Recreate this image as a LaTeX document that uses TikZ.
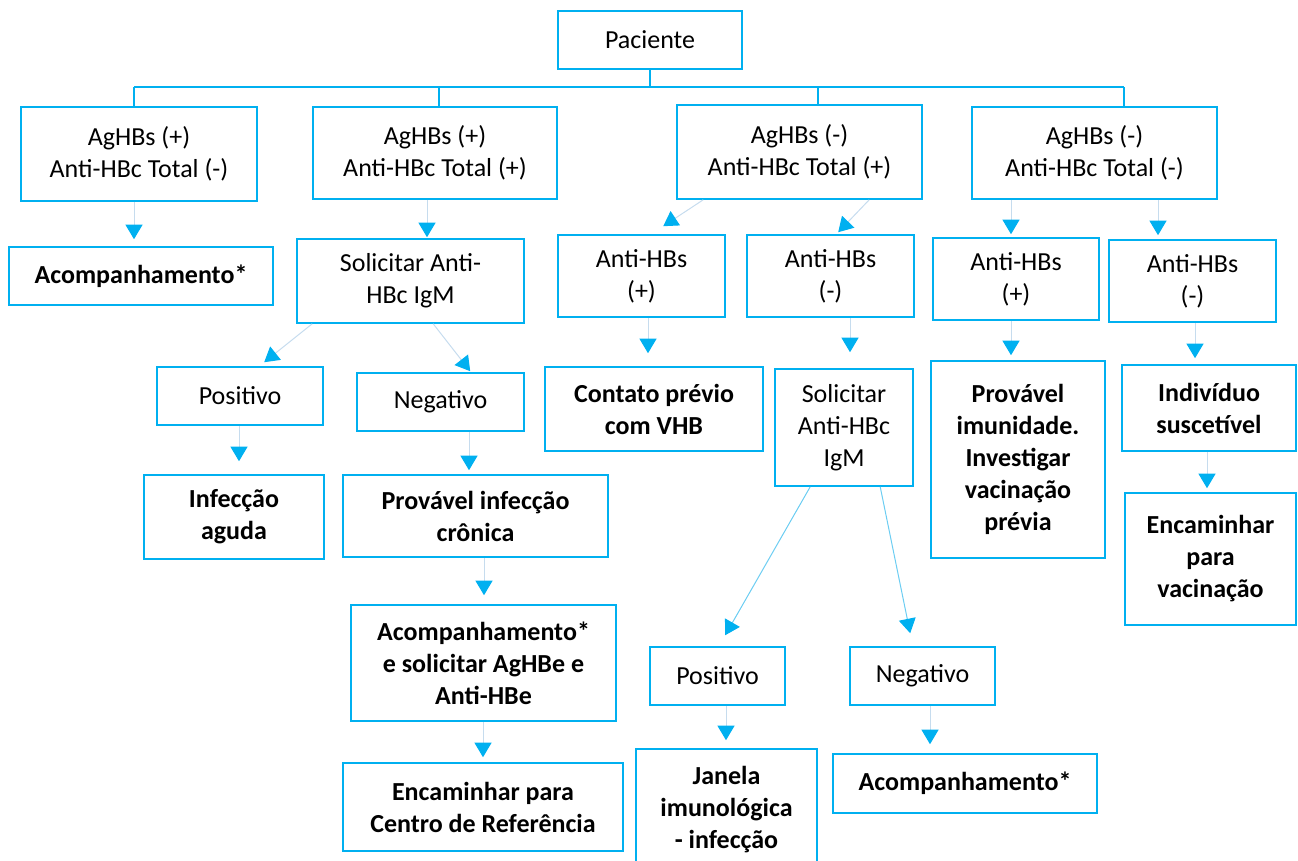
\documentclass[tikz,border=0pt]{standalone}
\usepackage{fontspec}
\setmainfont{Carlito}
\usetikzlibrary{arrows.meta}
\definecolor{boxblue}{HTML}{00B0F0}
\definecolor{shaftblue}{HTML}{C6DCEE}
\definecolor{shaftcyan}{HTML}{6CCDF2}
\tikzset{
	box/.style={draw=boxblue, line width=1.6pt, align=center, inner sep=0pt, font=\fontsize{26}{32}\selectfont},
	res/.style={box, font=\fontsize{26}{32}\selectfont\bfseries},
	bus/.style={draw=boxblue, line width=1.8pt},
	arr/.style={draw=shaftblue, line width=1pt, -{Triangle[length=14.5pt,width=17pt,color=boxblue]}},
	arrcyan/.style={arr, draw=shaftcyan},
}
\begin{document}
\begin{tikzpicture}[x=1pt,y=-1pt]
	\useasboundingbox (0,0) rectangle (1298,860);
	% first levels
	\node[box, minimum width=184, minimum height=58] (pac) at (650,40) {Paciente};
	\node[box, minimum width=236, minimum height=94] (b1) at (139,154) {AgHBs (+)\\Anti-HBc Total (-)};
	\node[box, minimum width=244, minimum height=92] (b2) at (435,153) {AgHBs (+)\\Anti-HBc Total (+)};
	\node[box, minimum width=245, minimum height=94] (b3) at (799.5,152) {AgHBs (-)\\Anti-HBc Total (+)};
	\node[box, minimum width=245, minimum height=92] (b4) at (1094.5,153) {AgHBs (-)\\Anti-HBc Total (-)};
	\node[res, minimum width=264, minimum height=58] (acomp1) at (141,276) {Acompanhamento*};
	\node[box, minimum width=227, minimum height=84] (sol1) at (410.5,281) {Solicitar Anti-\\HBc IgM};
	\node[box, minimum width=167, minimum height=82] (ahbs1) at (641.5,276) {Anti-HBs\\(+)};
	\node[box, minimum width=167, minimum height=82] (ahbs2) at (830.5,276) {Anti-HBs\\(-)};
	\node[box, minimum width=166, minimum height=82] (ahbs3) at (1016,279) {Anti-HBs\\(+)};
	\node[box, minimum width=167, minimum height=82] (ahbs4) at (1192.5,281) {Anti-HBs\\(-)};
	% results
	\node[box, minimum width=166, minimum height=58] (pos1) at (240,396) {Positivo};
	\node[box, minimum width=167, minimum height=58] (neg1) at (440.5,402) {Negativo};
	\node[res, minimum width=218, minimum height=84] (contato) at (654,409) {Contato prévio\\com VHB};
	\node[box, minimum width=138, minimum height=117] (sol2) at (844,427.5) {Solicitar\\Anti-HBc\\IgM};
	\node[res, minimum width=174, minimum height=197] (provimun) at (1018,459.5) {Provável\\imunidade.\\Investigar\\vacinação\\prévia};
	\node[res, minimum width=174, minimum height=86] (indiv) at (1209,408) {Indivíduo\\suscetível};
	\node[res, minimum width=180, minimum height=84] (infag) at (234,517) {Infecção\\aguda};
	\node[res, minimum width=265, minimum height=82] (provcron) at (475.5,516) {Provável infecção\\crônica};
	\node[res, minimum width=171, minimum height=132] (encvac) at (1210.5,559) {Encaminhar\\para\\vacinação};
	\node[res, minimum width=265, minimum height=116] (acompe) at (483.5,663) {Acompanhamento*\\e solicitar AgHBe e\\Anti-HBe};
	\node[box, minimum width=135, minimum height=58] (pos2) at (717.5,676) {Positivo};
	\node[box, minimum width=145, minimum height=58] (neg2) at (922.5,676) {Negativo};
	\node[res, minimum width=280, minimum height=88] (encref) at (483,807) {Encaminhar para\\Centro de Referência};
	\node[res, minimum width=181, minimum height=122] (janela) at (726.5,810) {Janela\\imunológica\\- infecção};
	\node[res, minimum width=264, minimum height=59] (acomp3) at (965,783.5) {Acompanhamento*};
	% tree bus
	\coordinate (busl) at (134,87);
	\coordinate (j2) at (439,87);
	\coordinate (j3) at (818,87);
	\coordinate (busr) at (1124,87);
	\draw[bus] (pac.south) -- (pac.south |- busl);
	\draw[bus] (busl) -- (busr);
	\foreach \j/\b in {busl/b1, j2/b2, j3/b3, busr/b4}
		\draw[bus] (\j) -- (\j |- \b.north);
	% arrows
	\path[arr, shorten >=7pt] (b1.south -| 134,0) -- (acomp1.north -| 134,0);
	\path[arr, shorten >=1pt] (b2.south -| 427,0) -- (sol1.north -| 427,0);
	\path[arr] ([xshift=27]b3.south west) -- ([shift={(106,-8)}]ahbs1.north west);
	\path[arr] ([xshift=193]b3.south west) -- ([shift={(92,-2)}]ahbs2.north west);
	\path[arr, shorten >=3pt] (b4.south -| 1011,0) -- (ahbs3.north -| 1011,0);
	\path[arr, shorten >=4pt] (b4.south -| 1158,0) -- (ahbs4.north -| 1158,0);
	\path[arr] ([xshift=16]sol1.south west) -- ([shift={(108,-4)}]pos1.north west);
	\path[arr] ([xshift=137]sol1.south west) -- ([shift={(114,-1)}]neg1.north west);
	\path[arr, shorten >=13pt] (ahbs1.south -| 648,0) -- (contato.north -| 648,0);
	\path[arr, shorten >=16pt] (ahbs2.south -| 850,0) -- (sol2.north -| 850,0);
	\path[arr, shorten >=5pt] (ahbs3.south -| 1011,0) -- (provimun.north -| 1011,0);
	\path[arr, shorten >=6pt] (ahbs4.south -| 1195,0) -- (indiv.north -| 1195,0);
	\path[arr, shorten >=4pt] (indiv.south -| 1207,0) -- (encvac.north -| 1207,0);
	\path[arr, shorten >=13pt] (pos1.south -| 239,0) -- (infag.north -| 239,0);
	\path[arr, shorten >=4pt] (neg1.south -| 469,0) -- (provcron.north -| 469,0);
	\path[arr, shorten >=9pt] (provcron.south -| 484,0) -- (acompe.north -| 484,0);
	\path[arr, shorten >=5pt] (acompe.south -| 483,0) -- (encref.north -| 483,0);
	\path[arrcyan] ([xshift=36]sol2.south west) -- ([shift={(76,-11)}]pos2.north west);
	\path[arrcyan] ([xshift=106]sol2.south west) -- ([shift={(61,-13)}]neg2.north west);
	\path[arr, shorten >=8pt] (pos2.south -| 726,0) -- (janela.north -| 726,0);
	\path[arr, shorten >=9pt] (neg2.south -| 930,0) -- (acomp3.north -| 930,0);
\end{tikzpicture}
\end{document}
